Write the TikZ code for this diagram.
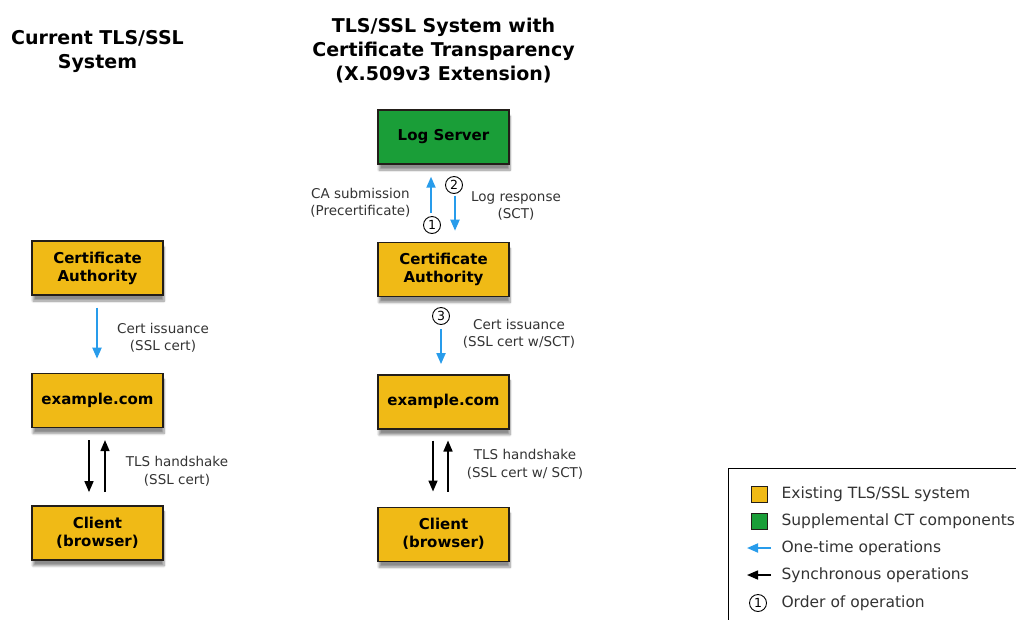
\documentclass[tikz,border=0pt]{standalone}
\usepackage{fontspec}
\setmainfont{DejaVu Sans}
\usetikzlibrary{positioning,arrows.meta,shadows.blur}
\definecolor{caorange}{RGB}{240,186,22}
\definecolor{ctgreen}{RGB}{26,158,56}
\definecolor{oneblue}{RGB}{40,156,235}
\definecolor{boxline}{RGB}{35,30,25}
\begin{document}
\begin{tikzpicture}
  [
    x                 = 1pt,
    y                 = -1pt,
    node distance     = 77pt,
    every node/.style = {font=\fontsize{13.5}{17.5}\selectfont, text=black!80},
    sysbox/.style     = {
      draw=boxline, line width=1.4pt, fill=caorange,
      minimum width=131pt, minimum height=54pt, inner sep=0pt,
      align=center, text=black, font=\bfseries\fontsize{15}{18}\selectfont,
      blur shadow={shadow xshift=1pt, shadow yshift=-6pt, shadow blur steps=8, shadow opacity=45}
    },
    ctbox/.style      = {sysbox, fill=ctgreen},
    title/.style      = {align=center, text=black, font=\bfseries\fontsize{19}{24}\selectfont},
    lbl/.style        = {align=center},
    keytext/.style    = {anchor=west, font=\fontsize{15.5}{18}\selectfont},
    keybox/.style     = {draw=boxline, line width=1pt, minimum size=16pt, inner sep=0pt},
    ordnum/.style     = {
      circle, draw=black, line width=0.9pt, inner sep=0pt,
      minimum size=17pt, text=black, font=\fontsize{12.5}{12.5}\selectfont
    },
    onetime/.style    = {draw=oneblue, line width=1.9pt, -{Triangle[width=9pt,length=11pt]}},
    sync/.style       = {draw=black, line width=1.6pt, -{Triangle[width=9pt,length=11pt]}}
  ]
  \clip (0,0) rectangle (1016,619);

  % titles
  \node[title] (curtitle) at (97.5,51) {Current TLS/SSL\\System};
  \node[title] (cttitle) at (443.5,51) {TLS/SSL System with\\Certificate Transparency\\(X.509v3 Extension)};

  % current system
  \node[sysbox] (ca1) at (97.5,268) {Certificate\\Authority};
  \node[sysbox, below=of ca1] (web1) {example.com};
  \node[sysbox, below=of web1] (cli1) {Client\\(browser)};

  \draw[onetime, shorten <=12pt, shorten >=14pt] ([xshift=-0.5pt]ca1.south) -- ([xshift=-0.5pt]web1.north);
  \node[lbl] (iss1) at (163,338) {Cert issuance\\(SSL cert)};

  \draw[sync, shorten <=12pt, shorten >=13pt] ([xshift=-8.5pt]web1.south) -- ([xshift=-8.5pt]cli1.north);
  \draw[sync, shorten <=13pt, shorten >=12pt] ([xshift=7.5pt]cli1.north) -- ([xshift=7.5pt]web1.south);
  \node[lbl] (tls1) at (177,471) {TLS handshake\\(SSL cert)};

  % system with CT
  \node[ctbox] (log) at (443.5,137) {Log Server};
  \node[sysbox, below=of log] (ca2) {Certificate\\Authority};
  \node[sysbox, below=of ca2] (web2) {example.com};
  \node[sysbox, below=of web2] (cli2) {Client\\(browser)};

  \draw[onetime, shorten <=29pt, shorten >=12pt] ([xshift=-12.5pt]ca2.north) -- ([xshift=-12.5pt]log.south);
  \draw[onetime, shorten <=31pt, shorten >=11pt] ([xshift=11.5pt]log.south) -- ([xshift=11.5pt]ca2.north);
  \node[ordnum] (ord1) at (432,225) {1};
  \node[ordnum] (ord2) at (454,185) {2};
  \node[lbl, anchor=east] (submit) at (414,203) {CA submission\\(Precertificate)};
  \node[lbl] (resp) at (516,206) {Log response\\(SCT)};

  \node[ordnum] (ord3) at (441,316) {3};
  \draw[onetime, shorten <=32pt, shorten >=10pt] ([xshift=-2.5pt]ca2.south) -- ([xshift=-2.5pt]web2.north);
  \node[lbl] (iss2) at (519,334) {Cert issuance\\(SSL cert w/SCT)};

  \draw[sync, shorten <=11pt, shorten >=15pt] ([xshift=-10.5pt]web2.south) -- ([xshift=-10.5pt]cli2.north);
  \draw[sync, shorten <=15pt, shorten >=11pt] ([xshift=4.5pt]cli2.north) -- ([xshift=4.5pt]web2.south);
  \node[lbl] (tls2) at (525,464) {TLS handshake\\(SSL cert w/ SCT)};

  % legend
  \node[draw=black, line width=1pt, minimum width=320pt, minimum height=180pt, anchor=north west] (legend) at (728,468) {};
  \node[keybox, fill=caorange] (keyold) at (759,494) {};
  \node[keytext] (keyoldtxt) at (778,494) {Existing TLS/SSL system};
  \node[keybox, fill=ctgreen] (keynew) at (759,521) {};
  \node[keytext] (keynewtxt) at (778,521) {Supplemental CT components};
  \coordinate (keyoneA) at (771,548);
  \coordinate (keyoneB) at (747,548);
  \draw[onetime] (keyoneA) -- (keyoneB);
  \node[keytext] (keyonetxt) at (778,548) {One-time operations};
  \coordinate (keysyncA) at (771,575);
  \coordinate (keysyncB) at (747,575);
  \draw[sync] (keysyncA) -- (keysyncB);
  \node[keytext] (keysynctxt) at (778,575) {Synchronous operations};
  \node[ordnum] (keyord) at (758,603) {1};
  \node[keytext] (keyordtxt) at (778,603) {Order of operation};
\end{tikzpicture}
\end{document}
